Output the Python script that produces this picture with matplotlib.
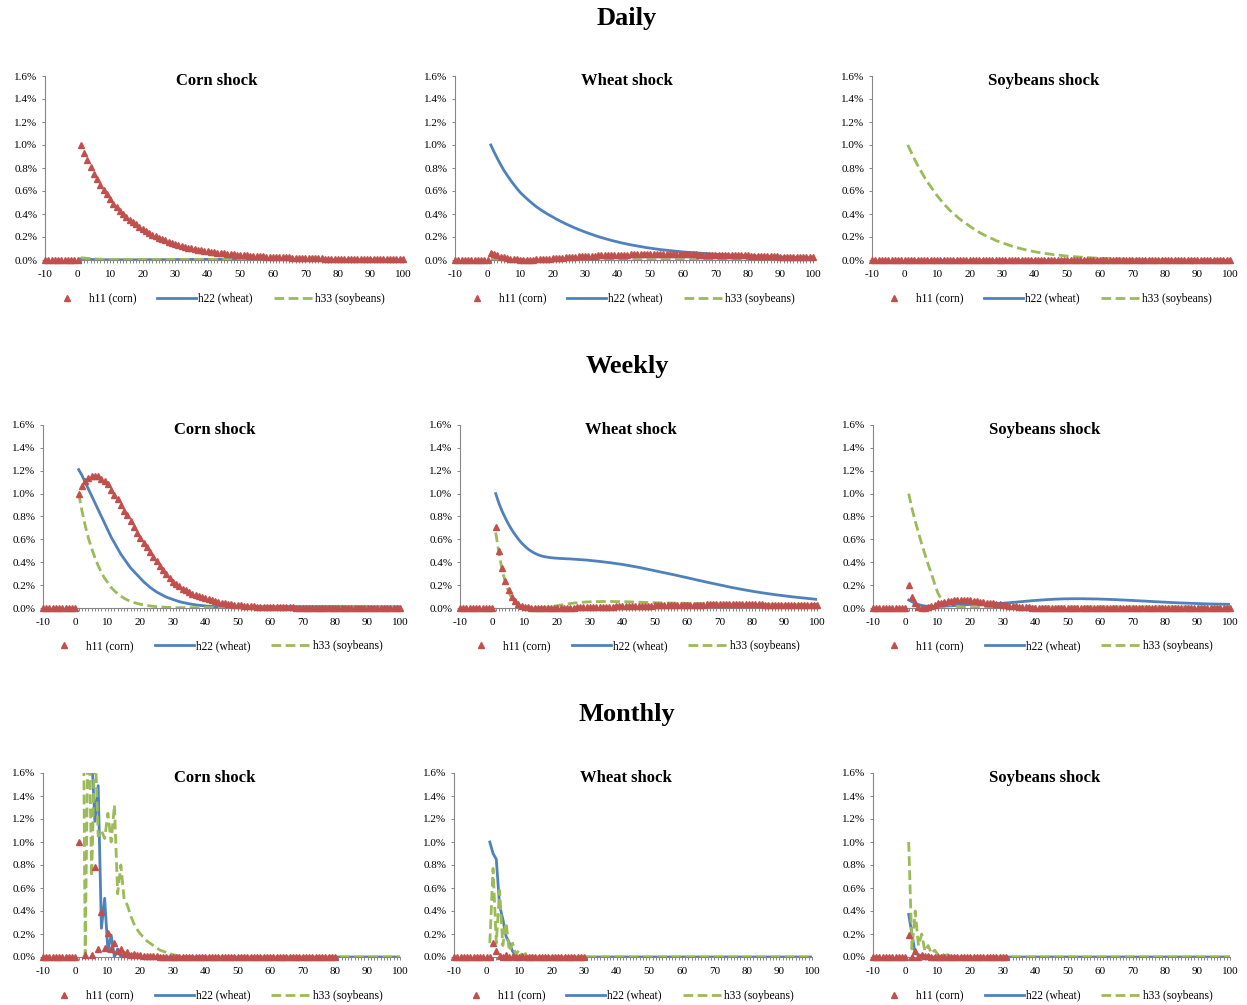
import numpy as np
import matplotlib.pyplot as plt

plt.rcParams['font.family'] = ['Liberation Serif', 'DejaVu Serif']
plt.rcParams['axes.unicode_minus'] = False

RED = '#C0504D'
BLUE = '#4F81BD'
GREEN = '#9BBB59'
AXIS = '#868686'

# responses in percent; h11 also shown (as zero) for lags -10..0
pre_shock = [0, 0, 0, 0, 0, 0, 0, 0, 0, 0, 0]

# ---------------- Daily ----------------
daily_corn_h11 = [
    1.00, 0.93, 0.87, 0.81, 0.75, 0.70, 0.65, 0.61, 0.57, 0.53,
    0.49, 0.46, 0.43, 0.40, 0.37, 0.35, 0.33, 0.31, 0.29, 0.27,
    0.25, 0.235, 0.22, 0.205, 0.19, 0.18, 0.17, 0.16, 0.15, 0.14,
    0.13, 0.122, 0.115, 0.108, 0.10, 0.095, 0.09, 0.085, 0.08, 0.075,
    0.071, 0.067, 0.064, 0.06, 0.057, 0.054, 0.051, 0.049, 0.046, 0.044,
    0.042, 0.04, 0.038, 0.036, 0.034, 0.033, 0.031, 0.03, 0.028, 0.027,
    0.026, 0.025, 0.024, 0.023, 0.022, 0.021, 0.02, 0.019, 0.018, 0.017,
    0.017, 0.016, 0.015, 0.015, 0.014, 0.013, 0.013, 0.012, 0.012, 0.011,
    0.011, 0.01, 0.01, 0.009, 0.009, 0.009, 0.008, 0.008, 0.008, 0.007,
    0.007, 0.007, 0.006, 0.006, 0.006, 0.006, 0.005, 0.005, 0.005, 0.005]
daily_corn_h22 = [
    0.01, 0.008, 0.006, 0.005, 0.004, 0.003, 0.003, 0.002, 0.002, 0.002,
    0.002, 0.002, 0.002, 0.002, 0.002, 0.002, 0.002, 0.002, 0.002, 0.002,
    0.003, 0.003, 0.003, 0.003, 0.003, 0.003, 0.003, 0.004, 0.004, 0.004,
    0.004, 0.004, 0.004, 0.005, 0.005, 0.005, 0.005, 0.005, 0.005, 0.005,
    0.005, 0.005, 0.005, 0.005, 0.005, 0.005, 0.005, 0.005, 0.005, 0.005,
    0.005, 0.005, 0.005, 0.005, 0.005, 0.005, 0.005, 0.004, 0.004, 0.004,
    0.004, 0.004, 0.004, 0.004, 0.004, 0.004, 0.003, 0.003, 0.003, 0.003,
    0.003, 0.003, 0.003, 0.003, 0.003, 0.003, 0.003, 0.002, 0.002, 0.002,
    0.002, 0.002, 0.002, 0.002, 0.002, 0.002, 0.002, 0.002, 0.002, 0.002,
    0.002, 0.002, 0.002, 0.002, 0.002, 0.002, 0.002, 0.002, 0.002, 0.002]
daily_corn_h33 = [
    0.02, 0.017, 0.014, 0.012, 0.01, 0.008, 0.007, 0.006, 0.005, 0.004,
    0.004, 0.004, 0.004, 0.004, 0.004, 0.004, 0.004, 0.004, 0.004, 0.004,
    0.004, 0.004, 0.004, 0.004, 0.004, 0.004, 0.004, 0.004, 0.005, 0.005,
    0.005, 0.005, 0.005, 0.005, 0.005, 0.005, 0.005, 0.005, 0.005, 0.005,
    0.005, 0.005, 0.005, 0.005, 0.005, 0.005, 0.005, 0.005, 0.005, 0.005,
    0.005, 0.005, 0.005, 0.005, 0.005, 0.005, 0.005, 0.004, 0.004, 0.004,
    0.004, 0.004, 0.004, 0.004, 0.003, 0.003, 0.003, 0.003, 0.003, 0.003,
    0.003, 0.003, 0.002, 0.002, 0.002, 0.002, 0.002, 0.002, 0.002, 0.002,
    0.002, 0.002, 0.002, 0.002, 0.002, 0.001, 0.001, 0.001, 0.001, 0.001,
    0.001, 0.001, 0.001, 0.001, 0.001, 0.001, 0.001, 0.001, 0.001, 0.001]

daily_wheat_h11 = [
    0.06, 0.05, 0.04, 0.03, 0.022, 0.016, 0.011, 0.008, 0.005, 0.004,
    0.003, 0.003, 0.003, 0.004, 0.005, 0.007, 0.009, 0.011, 0.013, 0.015,
    0.017, 0.019, 0.021, 0.023, 0.025, 0.027, 0.029, 0.031, 0.033, 0.035,
    0.036, 0.038, 0.039, 0.04, 0.041, 0.042, 0.043, 0.044, 0.045, 0.046,
    0.046, 0.047, 0.047, 0.048, 0.048, 0.048, 0.049, 0.049, 0.049, 0.049,
    0.05, 0.05, 0.05, 0.05, 0.05, 0.05, 0.05, 0.05, 0.05, 0.05,
    0.049, 0.049, 0.048, 0.048, 0.047, 0.047, 0.046, 0.046, 0.045, 0.045,
    0.044, 0.044, 0.043, 0.043, 0.042, 0.042, 0.041, 0.041, 0.04, 0.04,
    0.039, 0.038, 0.037, 0.036, 0.035, 0.034, 0.033, 0.032, 0.031, 0.03,
    0.03, 0.029, 0.029, 0.028, 0.028, 0.027, 0.027, 0.026, 0.026, 0.025]
daily_wheat_h22 = [
    1.000, 0.940, 0.884, 0.831, 0.781, 0.738, 0.697, 0.659, 0.623, 0.589,
    0.561, 0.535, 0.510, 0.486, 0.463, 0.443, 0.425, 0.407, 0.390, 0.375,
    0.358, 0.343, 0.329, 0.315, 0.302, 0.289, 0.277, 0.265, 0.254, 0.243,
    0.233, 0.223, 0.213, 0.204, 0.195, 0.187, 0.179, 0.171, 0.164, 0.157,
    0.150, 0.144, 0.138, 0.132, 0.127, 0.122, 0.117, 0.112, 0.107, 0.103,
    0.099, 0.095, 0.091, 0.088, 0.085, 0.082, 0.079, 0.076, 0.073, 0.070,
    0.068, 0.066, 0.064, 0.062, 0.060, 0.058, 0.056, 0.054, 0.052, 0.050,
    0.049, 0.047, 0.046, 0.044, 0.043, 0.042, 0.041, 0.039, 0.038, 0.037,
    0.036, 0.035, 0.034, 0.033, 0.032, 0.031, 0.030, 0.029, 0.028, 0.027,
    0.026, 0.026, 0.025, 0.024, 0.023, 0.023, 0.022, 0.021, 0.021, 0.020]
daily_wheat_h33 = [
    0.005, 0.004, 0.003, 0.003, 0.003, 0.003, 0.003, 0.003, 0.003, 0.003,
    0.003, 0.003, 0.003, 0.003, 0.003, 0.003, 0.003, 0.003, 0.003, 0.003,
    0.003, 0.003, 0.003, 0.003, 0.003, 0.003, 0.003, 0.003, 0.003, 0.003,
    0.003, 0.003, 0.003, 0.003, 0.003, 0.003, 0.003, 0.003, 0.003, 0.003,
    0.003, 0.003, 0.003, 0.003, 0.003, 0.003, 0.003, 0.003, 0.003, 0.003,
    0.003, 0.003, 0.003, 0.003, 0.003, 0.003, 0.003, 0.003, 0.003, 0.003,
    0.003, 0.003, 0.003, 0.003, 0.003, 0.003, 0.003, 0.003, 0.003, 0.003,
    0.003, 0.003, 0.003, 0.003, 0.003, 0.003, 0.003, 0.003, 0.003, 0.003,
    0.002, 0.002, 0.002, 0.002, 0.002, 0.002, 0.002, 0.002, 0.002, 0.002,
    0.002, 0.002, 0.002, 0.002, 0.002, 0.002, 0.002, 0.002, 0.002, 0.002]

daily_soy_h11 = [
    0, 0, 0, 0, 0, 0, 0, 0, 0, 0,
    0, 0, 0, 0, 0, 0, 0, 0, 0, 0,
    0, 0, 0, 0, 0, 0, 0, 0, 0, 0,
    0, 0, 0, 0, 0, 0, 0, 0, 0, 0,
    0, 0, 0, 0, 0, 0, 0, 0, 0, 0,
    0, 0, 0, 0, 0, 0, 0, 0, 0, 0,
    0, 0, 0, 0, 0, 0, 0, 0, 0, 0,
    0, 0, 0, 0, 0, 0, 0, 0, 0, 0,
    0, 0, 0, 0, 0, 0, 0, 0, 0, 0,
    0, 0, 0, 0, 0, 0, 0, 0, 0, 0]
daily_soy_h22 = [
    0, 0, 0, 0, 0, 0, 0, 0, 0, 0,
    0, 0, 0, 0, 0, 0, 0, 0, 0, 0,
    0, 0, 0, 0, 0, 0, 0, 0, 0, 0,
    0, 0, 0, 0, 0, 0, 0, 0, 0, 0,
    0, 0, 0, 0, 0, 0, 0, 0, 0, 0,
    0, 0, 0, 0, 0, 0, 0, 0, 0, 0,
    0, 0, 0, 0, 0, 0, 0, 0, 0, 0,
    0, 0, 0, 0, 0, 0, 0, 0, 0, 0,
    0, 0, 0, 0, 0, 0, 0, 0, 0, 0,
    0, 0, 0, 0, 0, 0, 0, 0, 0, 0]
daily_soy_h33 = [
    1.00, 0.94, 0.88, 0.825, 0.775, 0.725, 0.68, 0.64, 0.60, 0.56,
    0.525, 0.49, 0.46, 0.43, 0.405, 0.38, 0.355, 0.335, 0.315, 0.295,
    0.275, 0.26, 0.24, 0.225, 0.21, 0.195, 0.185, 0.17, 0.16, 0.15,
    0.14, 0.13, 0.12, 0.11, 0.105, 0.097, 0.09, 0.084, 0.078, 0.072,
    0.067, 0.062, 0.058, 0.054, 0.05, 0.046, 0.043, 0.04, 0.037, 0.034,
    0.032, 0.029, 0.027, 0.025, 0.023, 0.021, 0.02, 0.018, 0.017, 0.015,
    0.014, 0.013, 0.012, 0.011, 0.01, 0.009, 0.009, 0.008, 0.007, 0.007,
    0.006, 0.006, 0.005, 0.005, 0.005, 0.004, 0.004, 0.004, 0.003, 0.003,
    0.003, 0.003, 0.003, 0.002, 0.002, 0.002, 0.002, 0.002, 0.002, 0.002,
    0.001, 0.001, 0.001, 0.001, 0.001, 0.001, 0.001, 0.001, 0.001, 0.001]

# ---------------- Weekly ----------------
weekly_corn_h11 = [
    1.00, 1.07, 1.11, 1.14, 1.15, 1.155, 1.15, 1.13, 1.11, 1.08,
    1.03, 0.99, 0.95, 0.90, 0.85, 0.81, 0.76, 0.71, 0.66, 0.61,
    0.57, 0.53, 0.49, 0.45, 0.41, 0.37, 0.33, 0.30, 0.26, 0.23,
    0.21, 0.19, 0.17, 0.155, 0.14, 0.125, 0.115, 0.105, 0.095, 0.085,
    0.075, 0.067, 0.06, 0.053, 0.047, 0.042, 0.037, 0.033, 0.029, 0.026,
    0.023, 0.02, 0.018, 0.016, 0.014, 0.012, 0.011, 0.01, 0.009, 0.008,
    0.007, 0.007, 0.006, 0.006, 0.005, 0.005, 0.005, 0.004, 0.004, 0.004,
    0.004, 0.004, 0.004, 0.004, 0.004, 0.004, 0.004, 0.004, 0.004, 0.004,
    0.003, 0.003, 0.003, 0.003, 0.003, 0.003, 0.003, 0.003, 0.003, 0.003,
    0.003, 0.003, 0.003, 0.003, 0.003, 0.002, 0.002, 0.002, 0.002, 0.002]
weekly_corn_h22 = [
    1.21, 1.16, 1.10, 1.04, 0.98, 0.92, 0.86, 0.80, 0.74, 0.68,
    0.62, 0.57, 0.52, 0.47, 0.43, 0.39, 0.35, 0.32, 0.29, 0.26,
    0.23, 0.205, 0.18, 0.16, 0.14, 0.125, 0.11, 0.095, 0.085, 0.075,
    0.065, 0.056, 0.049, 0.043, 0.037, 0.032, 0.028, 0.024, 0.021, 0.018,
    0.016, 0.014, 0.012, 0.011, 0.01, 0.01, 0.01, 0.01, 0.01, 0.01,
    0.01, 0.01, 0.01, 0.011, 0.011, 0.011, 0.011, 0.012, 0.012, 0.012,
    0.012, 0.012, 0.012, 0.012, 0.012, 0.012, 0.012, 0.012, 0.012, 0.012,
    0.012, 0.012, 0.012, 0.012, 0.012, 0.012, 0.012, 0.012, 0.012, 0.012,
    0.012, 0.012, 0.011, 0.011, 0.011, 0.011, 0.011, 0.011, 0.011, 0.011,
    0.01, 0.01, 0.01, 0.01, 0.01, 0.01, 0.01, 0.01, 0.01, 0.01]
weekly_corn_h33 = [
    1.00, 0.85, 0.72, 0.61, 0.52, 0.44, 0.37, 0.31, 0.26, 0.22,
    0.18, 0.15, 0.125, 0.105, 0.085, 0.07, 0.058, 0.048, 0.04, 0.033,
    0.027, 0.022, 0.018, 0.015, 0.012, 0.01, 0.008, 0.006, 0.005, 0.004,
    0.003, 0.003, 0.003, 0.003, 0.003, 0.003, 0.003, 0.003, 0.003, 0.003,
    0.003, 0.003, 0.003, 0.003, 0.003, 0.003, 0.003, 0.003, 0.003, 0.003,
    0.003, 0.003, 0.003, 0.003, 0.003, 0.003, 0.003, 0.003, 0.003, 0.003,
    0.003, 0.003, 0.003, 0.003, 0.003, 0.003, 0.003, 0.003, 0.003, 0.003,
    0.003, 0.003, 0.003, 0.003, 0.003, 0.003, 0.003, 0.003, 0.003, 0.003,
    0.003, 0.003, 0.003, 0.003, 0.003, 0.003, 0.003, 0.003, 0.003, 0.003,
    0.003, 0.003, 0.003, 0.003, 0.003, 0.003, 0.003, 0.003, 0.003, 0.003]

weekly_wheat_h11 = [
    0.71, 0.50, 0.35, 0.24, 0.16, 0.10, 0.06, 0.035, 0.02, 0.01,
    0.005, 0.003, 0.001, 0, 0, 0, 0, 0, 0, 0,
    0, 0.001, 0.002, 0.003, 0.004, 0.005, 0.006, 0.007, 0.008, 0.009,
    0.01, 0.011, 0.011, 0.012, 0.012, 0.013, 0.013, 0.014, 0.014, 0.015,
    0.016, 0.017, 0.017, 0.018, 0.019, 0.019, 0.02, 0.021, 0.021, 0.022,
    0.023, 0.023, 0.024, 0.025, 0.025, 0.026, 0.026, 0.027, 0.027, 0.028,
    0.029, 0.029, 0.03, 0.03, 0.03, 0.031, 0.031, 0.031, 0.031, 0.032,
    0.032, 0.032, 0.032, 0.032, 0.032, 0.032, 0.032, 0.032, 0.032, 0.032,
    0.031, 0.031, 0.031, 0.03, 0.03, 0.03, 0.029, 0.029, 0.029, 0.028,
    0.028, 0.028, 0.027, 0.027, 0.027, 0.026, 0.026, 0.026, 0.025, 0.025]
weekly_wheat_h22 = [
    1.000, 0.915, 0.845, 0.785, 0.730, 0.682, 0.640, 0.602, 0.568, 0.540,
    0.515, 0.495, 0.479, 0.466, 0.456, 0.449, 0.444, 0.440, 0.437, 0.435,
    0.433, 0.432, 0.430, 0.429, 0.427, 0.425, 0.423, 0.421, 0.419, 0.416,
    0.413, 0.410, 0.407, 0.404, 0.400, 0.397, 0.393, 0.389, 0.385, 0.381,
    0.376, 0.371, 0.366, 0.361, 0.356, 0.350, 0.344, 0.338, 0.332, 0.326,
    0.320, 0.314, 0.308, 0.302, 0.296, 0.290, 0.284, 0.277, 0.271, 0.265,
    0.258, 0.252, 0.245, 0.239, 0.233, 0.226, 0.220, 0.214, 0.208, 0.202,
    0.196, 0.190, 0.184, 0.178, 0.173, 0.167, 0.162, 0.157, 0.152, 0.147,
    0.142, 0.138, 0.133, 0.129, 0.125, 0.121, 0.117, 0.113, 0.110, 0.106,
    0.103, 0.099, 0.096, 0.093, 0.090, 0.087, 0.084, 0.081, 0.078, 0.075]
weekly_wheat_h33 = [
    0.66, 0.48, 0.33, 0.22, 0.14, 0.085, 0.05, 0.028, 0.015, 0.007,
    0.003, 0.001, 0, 0, 0.002, 0.005, 0.008, 0.012, 0.016, 0.02,
    0.025, 0.03, 0.035, 0.039, 0.043, 0.046, 0.049, 0.051, 0.053, 0.054,
    0.055, 0.056, 0.056, 0.057, 0.057, 0.057, 0.057, 0.056, 0.056, 0.055,
    0.055, 0.054, 0.053, 0.052, 0.051, 0.05, 0.049, 0.048, 0.047, 0.046,
    0.045, 0.045, 0.044, 0.044, 0.043, 0.043, 0.042, 0.042, 0.041, 0.041,
    0.04, 0.04, 0.039, 0.039, 0.038, 0.038, 0.037, 0.037, 0.036, 0.036,
    0.035, 0.035, 0.035, 0.034, 0.034, 0.034, 0.033, 0.033, 0.033, 0.032,
    0.032, 0.032, 0.032, 0.031, 0.031, 0.031, 0.031, 0.031, 0.03, 0.03,
    0.03, 0.03, 0.03, 0.03, 0.03, 0.029, 0.029, 0.029, 0.029, 0.029]

weekly_soy_h11 = [
    0.20, 0.10, 0.04, 0.01, 0, 0, 0.01, 0.02, 0.03, 0.04,
    0.048, 0.055, 0.06, 0.065, 0.068, 0.07, 0.071, 0.07, 0.068, 0.066,
    0.063, 0.06, 0.056, 0.052, 0.048, 0.044, 0.04, 0.035, 0.031, 0.027,
    0.023, 0.02, 0.017, 0.014, 0.011, 0.009, 0.007, 0.005, 0.004, 0.003,
    0.002, 0.002, 0.002, 0.002, 0.002, 0.002, 0.002, 0.002, 0.002, 0.002,
    0.002, 0.002, 0.002, 0.002, 0.002, 0.002, 0.002, 0.002, 0.002, 0.002,
    0.002, 0.002, 0.002, 0.002, 0.002, 0.002, 0.002, 0.002, 0.002, 0.002,
    0.002, 0.002, 0.002, 0.002, 0.002, 0.002, 0.002, 0.002, 0.002, 0.002,
    0.002, 0.002, 0.002, 0.002, 0.002, 0.002, 0.002, 0.002, 0.002, 0.002,
    0.002, 0.002, 0.002, 0.002, 0.002, 0.002, 0.002, 0.002, 0.002, 0.002]
weekly_soy_h22 = [
    0.07, 0.055, 0.04, 0.03, 0.022, 0.017, 0.014, 0.013, 0.013, 0.014,
    0.015, 0.016, 0.018, 0.019, 0.021, 0.023, 0.025, 0.027, 0.029, 0.031,
    0.032, 0.033, 0.034, 0.035, 0.036, 0.037, 0.038, 0.039, 0.04, 0.042,
    0.044, 0.046, 0.049, 0.051, 0.054, 0.056, 0.059, 0.061, 0.064, 0.066,
    0.068, 0.07, 0.072, 0.074, 0.075, 0.077, 0.078, 0.079, 0.08, 0.08,
    0.081, 0.081, 0.081, 0.081, 0.081, 0.08, 0.08, 0.079, 0.079, 0.078,
    0.077, 0.076, 0.075, 0.074, 0.073, 0.071, 0.07, 0.069, 0.067, 0.066,
    0.064, 0.063, 0.061, 0.06, 0.058, 0.057, 0.055, 0.054, 0.052, 0.051,
    0.049, 0.048, 0.047, 0.045, 0.044, 0.043, 0.042, 0.041, 0.04, 0.039,
    0.038, 0.037, 0.036, 0.035, 0.035, 0.034, 0.034, 0.033, 0.033, 0.032]
weekly_soy_h33 = [
    1.00, 0.87, 0.76, 0.66, 0.56, 0.47, 0.38, 0.30, 0.21, 0.13,
    0.08, 0.05, 0.035, 0.025, 0.018, 0.013, 0.01, 0.008, 0.006, 0.005,
    0.004, 0.004, 0.003, 0.003, 0.003, 0.004, 0.005, 0.006, 0.007, 0.008,
    0.009, 0.01, 0.01, 0.01, 0.01, 0.01, 0.01, 0.01, 0.01, 0.01,
    0.01, 0.01, 0.01, 0.01, 0.01, 0.01, 0.01, 0.01, 0.01, 0.01,
    0.01, 0.01, 0.01, 0.01, 0.01, 0.01, 0.01, 0.01, 0.01, 0.01,
    0.01, 0.01, 0.01, 0.01, 0.01, 0.01, 0.01, 0.01, 0.01, 0.01,
    0.01, 0.01, 0.01, 0.01, 0.01, 0.01, 0.01, 0.01, 0.01, 0.01,
    0.01, 0.01, 0.01, 0.01, 0.01, 0.01, 0.01, 0.01, 0.01, 0.01,
    0.01, 0.01, 0.01, 0.01, 0.01, 0.01, 0.01, 0.01, 0.01, 0.01]

# ---------------- Monthly ----------------
# values above 1.6% run off the top of the plot in the original
monthly_corn_h11 = [
    1.00, 1.90, 0.02, 1.80, 0.02, 0.78, 0.07, 0.39, 0.08, 0.21,
    0.07, 0.12, 0.05, 0.07, 0.03, 0.04, 0.02, 0.03, 0.015, 0.015,
    0.01, 0.01, 0.008, 0.006, 0.005, 0.004, 0.003, 0.002, 0.002, 0.001,
    0, 0, 0, 0, 0, 0, 0, 0, 0, 0,
    0, 0, 0, 0, 0, 0, 0, 0, 0, 0,
    0, 0, 0, 0, 0, 0, 0, 0, 0, 0,
    0, 0, 0, 0, 0, 0, 0, 0, 0, 0,
    0, 0, 0, 0, 0, 0, 0, 0, 0, 0]
monthly_corn_h22 = [
    3.00, 3.20, 2.80, 2.40, 1.75, 1.18, 1.49, 0.25, 0.51, 0.05,
    0.19, 0.0, 0.07, 0.0, 0.03, 0.01, 0.02, 0.005, 0.01, 0,
    0, 0, 0, 0, 0, 0, 0, 0, 0, 0,
    0, 0, 0, 0, 0, 0, 0, 0, 0, 0,
    0, 0, 0, 0, 0, 0, 0, 0, 0, 0,
    0, 0, 0, 0, 0, 0, 0, 0, 0, 0,
    0, 0, 0, 0, 0, 0, 0, 0, 0, 0,
    0, 0, 0, 0, 0, 0, 0, 0, 0, 0,
    0, 0, 0, 0, 0, 0, 0, 0, 0, 0,
    0, 0, 0, 0, 0, 0, 0, 0, 0, 0]
monthly_corn_h33 = [
    2.40, 4.00, 0.02, 2.30, 0.70, 1.90, 1.05, 1.10, 1.03, 1.25,
    1.00, 1.32, 0.55, 0.80, 0.50, 0.45, 0.36, 0.29, 0.24, 0.20,
    0.17, 0.14, 0.12, 0.10, 0.08, 0.06, 0.05, 0.04, 0.03, 0.02,
    0.015, 0.01, 0.005, 0, 0, 0, 0, 0, 0, 0,
    0, 0, 0, 0, 0, 0, 0, 0, 0, 0,
    0, 0, 0, 0, 0, 0, 0, 0, 0, 0,
    0, 0, 0, 0, 0, 0, 0, 0, 0, 0,
    0, 0, 0, 0, 0, 0, 0, 0, 0, 0,
    0, 0, 0, 0, 0, 0, 0, 0, 0, 0,
    0, 0, 0, 0, 0, 0, 0, 0, 0, 0]

monthly_wheat_h11 = [
    0.0, 0.12, 0.05, 0.01, 0.0, 0.02, 0.0, 0.01, 0.0, 0.0,
    0.005, 0.0, 0.003, 0, 0, 0, 0, 0, 0, 0,
    0, 0, 0, 0, 0, 0, 0, 0, 0, 0]
monthly_wheat_h22 = [
    1.00, 0.90, 0.85, 0.45, 0.33, 0.18, 0.12, 0.05, 0.01, 0,
    0, 0, 0, 0, 0, 0, 0, 0, 0, 0,
    0, 0, 0, 0, 0, 0, 0, 0, 0, 0,
    0, 0, 0, 0, 0, 0, 0, 0, 0, 0,
    0, 0, 0, 0, 0, 0, 0, 0, 0, 0,
    0, 0, 0, 0, 0, 0, 0, 0, 0, 0,
    0, 0, 0, 0, 0, 0, 0, 0, 0, 0,
    0, 0, 0, 0, 0, 0, 0, 0, 0, 0,
    0, 0, 0, 0, 0, 0, 0, 0, 0, 0,
    0, 0, 0, 0, 0, 0, 0, 0, 0, 0]
monthly_wheat_h33 = [
    0.12, 0.77, 0.12, 0.58, 0.10, 0.30, 0.05, 0.12, 0.02, 0.06,
    0.0, 0.03, 0.005, 0.01, 0, 0, 0, 0, 0, 0,
    0, 0, 0, 0, 0, 0, 0, 0, 0, 0,
    0, 0, 0, 0, 0, 0, 0, 0, 0, 0,
    0, 0, 0, 0, 0, 0, 0, 0, 0, 0,
    0, 0, 0, 0, 0, 0, 0, 0, 0, 0,
    0, 0, 0, 0, 0, 0, 0, 0, 0, 0,
    0, 0, 0, 0, 0, 0, 0, 0, 0, 0,
    0, 0, 0, 0, 0, 0, 0, 0, 0, 0,
    0, 0, 0, 0, 0, 0, 0, 0, 0, 0]

monthly_soy_h11 = [
    0.19, 0.0, 0.05, 0.0, 0.02, 0.01, 0.005, 0, 0, 0,
    0, 0, 0, 0, 0, 0, 0, 0, 0, 0,
    0, 0, 0, 0, 0, 0, 0, 0, 0, 0,
    0]
monthly_soy_h22 = [
    0.37, 0.20, 0.03, 0.02, 0.01, 0, 0, 0, 0, 0,
    0, 0, 0, 0, 0, 0, 0, 0, 0, 0,
    0, 0, 0, 0, 0, 0, 0, 0, 0, 0,
    0, 0, 0, 0, 0, 0, 0, 0, 0, 0,
    0, 0, 0, 0, 0, 0, 0, 0, 0, 0,
    0, 0, 0, 0, 0, 0, 0, 0, 0, 0,
    0, 0, 0, 0, 0, 0, 0, 0, 0, 0,
    0, 0, 0, 0, 0, 0, 0, 0, 0, 0,
    0, 0, 0, 0, 0, 0, 0, 0, 0, 0,
    0, 0, 0, 0, 0, 0, 0, 0, 0, 0]
monthly_soy_h33 = [
    1.00, 0.07, 0.40, 0.10, 0.20, 0.05, 0.10, 0.03, 0.06, 0.02,
    0.04, 0.01, 0.02, 0.005, 0.01, 0, 0, 0, 0, 0,
    0, 0, 0, 0, 0, 0, 0, 0, 0, 0,
    0, 0, 0, 0, 0, 0, 0, 0, 0, 0,
    0, 0, 0, 0, 0, 0, 0, 0, 0, 0,
    0, 0, 0, 0, 0, 0, 0, 0, 0, 0,
    0, 0, 0, 0, 0, 0, 0, 0, 0, 0,
    0, 0, 0, 0, 0, 0, 0, 0, 0, 0,
    0, 0, 0, 0, 0, 0, 0, 0, 0, 0,
    0, 0, 0, 0, 0, 0, 0, 0, 0, 0]

frequencies = ['Daily', 'Weekly', 'Monthly']
shocks = ['Corn shock', 'Wheat shock', 'Soybeans shock']
legend_labels = ['h11 (corn)', 'h22 (wheat)', 'h33 (soybeans)']
x_ticks = [-10, 0, 10, 20, 30, 40, 50, 60, 70, 80, 90, 100]
y_ticks = [0.0, 0.2, 0.4, 0.6, 0.8, 1.0, 1.2, 1.4, 1.6]

panels = [
    [(daily_corn_h11, daily_corn_h22, daily_corn_h33),
     (daily_wheat_h11, daily_wheat_h22, daily_wheat_h33),
     (daily_soy_h11, daily_soy_h22, daily_soy_h33)],
    [(weekly_corn_h11, weekly_corn_h22, weekly_corn_h33),
     (weekly_wheat_h11, weekly_wheat_h22, weekly_wheat_h33),
     (weekly_soy_h11, weekly_soy_h22, weekly_soy_h33)],
    [(monthly_corn_h11, monthly_corn_h22, monthly_corn_h33),
     (monthly_wheat_h11, monthly_wheat_h22, monthly_wheat_h33),
     (monthly_soy_h11, monthly_soy_h22, monthly_soy_h33)],
]

# layout in pixels of the 1247x1005 canvas: plot area (left, right, top, bottom)
W, H = 1247, 1005
boxes = [
    [(45, 403, 76, 260), (455, 813, 76, 260), (872, 1230, 76, 260)],
    [(43, 400, 425, 608), (460, 817, 425, 608), (873, 1230, 425, 608)],
    [(43, 400, 773, 957), (454, 812, 773, 957), (873, 1230, 773, 957)],
]
row_title_y = [19, 366, 714]

fig = plt.figure(figsize=(W / 100, H / 100), dpi=100)

for r, freq in enumerate(frequencies):
    fig.text(627 / W, 1 - row_title_y[r] / H, freq, ha='center', va='center',
             fontsize=19, fontweight='bold')
    for c, shock in enumerate(shocks):
        left, right, top, bottom = boxes[r][c]
        ax = fig.add_axes([left / W, 1 - bottom / H, (right - left) / W, (bottom - top) / H])
        h11, h22, h33 = panels[r][c]

        x22 = np.arange(1, len(h22) + 1)
        x33 = np.arange(1, len(h33) + 1)
        ax.plot(x22, h22, color=BLUE, lw=2.0, label=legend_labels[1])
        ax.plot(x33, h33, color=GREEN, lw=2.0, linestyle=(0, (3.5, 1.6)), label=legend_labels[2])

        y11 = np.array(pre_shock + list(h11), dtype=float)
        x11 = np.arange(-10, len(h11) + 1)
        y11[y11 > 1.6] = np.nan  # off-scale points are not drawn
        ax.plot(x11, y11, linestyle='none', marker='^', ms=4.2, color=RED,
                mec=RED, clip_on=False, zorder=3, label=legend_labels[0])

        ax.set_xlim(-10, 100)
        ax.set_ylim(0, 1.6)
        ax.set_xticks(x_ticks)
        ax.set_xticklabels([str(v) for v in x_ticks])
        ax.set_xticks(np.arange(-10, 101), minor=True)
        ax.set_yticks(y_ticks)
        ax.set_yticklabels(['{:.1f}%'.format(v) for v in y_ticks])

        for side in ['top', 'right']:
            ax.spines[side].set_visible(False)
        for side in ['left', 'bottom']:
            ax.spines[side].set_color(AXIS)
            ax.spines[side].set_linewidth(0.8)
        ax.tick_params(axis='both', which='both', color=AXIS, width=0.7, length=2.5,
                       labelsize=8, pad=3, direction='out')
        ax.tick_params(axis='x', pad=4.5)

        ax.text(0.48, 0.973, shock, transform=ax.transAxes, ha='center', va='center',
                fontsize=12, fontweight='bold')

        handles, labels = ax.get_legend_handles_labels()
        order = [2, 0, 1]
        ax.legend([handles[i] for i in order], [labels[i] for i in order],
                  loc='center', bbox_to_anchor=(0.478, -0.21), ncol=3, frameon=False,
                  fontsize=8.3, handlelength=3.4, handletextpad=0.2, columnspacing=1.8)

fig.savefig('out.png', dpi=100)
